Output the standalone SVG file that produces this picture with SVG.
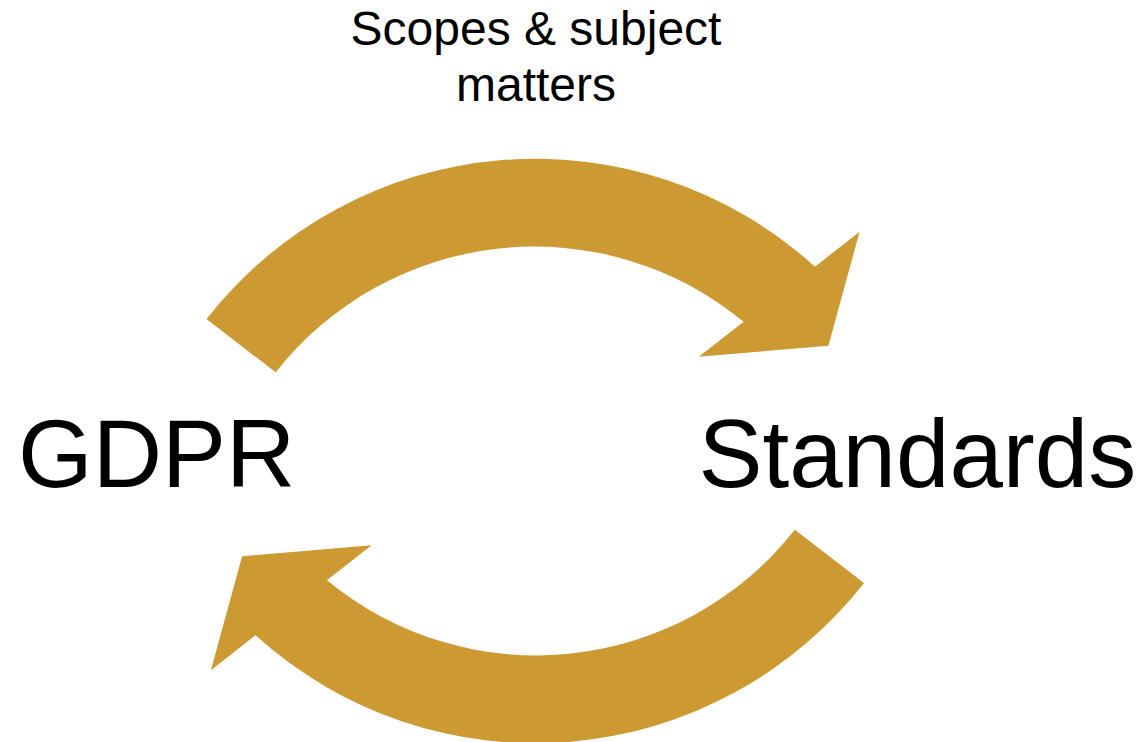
<svg xmlns="http://www.w3.org/2000/svg" width="1142" height="742" viewBox="0 0 1142 742">
<style>
.arrow{fill:#CC9933;stroke:none}
.lbl{font-family:"Liberation Sans",Arial,sans-serif;fill:#000}
.big{font-size:96px}
.small{font-size:48px;text-anchor:middle}
</style>
<rect width="1142" height="742" fill="#fff"/>
<g id="connectors">
<path id="arrow-top" class="arrow" d="M 206.5 319 A 417 417 0 0 1 815 266.7 L 859.6 231.7 L 828.4 345.7 L 698.9 356.7 L 743.6 321.7 A 329 329 0 0 0 275.7 372.3 Z"/>
<path id="arrow-bottom" class="arrow" d="M 864 583 A 417 417 0 0 1 255.5 635.3 L 210.9 670.3 L 242.1 556.3 L 371.6 545.3 L 326.9 580.3 A 329 329 0 0 0 794.8 529.7 Z"/>
</g>
<g id="label-top">
<text class="lbl small" x="536" y="45">Scopes &amp; subject</text>
<text class="lbl small" x="536" y="101">matters</text>
</g>
<g id="node-gdpr">
<text class="lbl big" x="18" y="487">GDPR</text>
</g>
<g id="node-standards">
<text class="lbl big" x="698.5" y="487">Standards</text>
</g>
</svg>
